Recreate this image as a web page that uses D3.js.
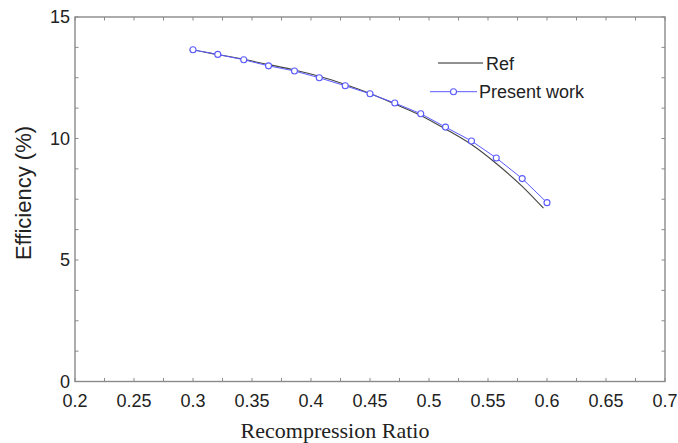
<!DOCTYPE html>
<html>
<head>
<meta charset="utf-8">
<script src="https://cdn.jsdelivr.net/npm/d3@7"></script>
<style>
  html, body { margin: 0; padding: 0; background: #fff; }
  svg { display: block; }
</style>
</head>
<body>
<svg id="chart" width="678" height="443"></svg>
<script>
// Reference curve (smooth line)
const refX = [0.297, 0.300, 0.320, 0.343, 0.364, 0.386, 0.407, 0.429, 0.450, 0.471, 0.493, 0.514, 0.536, 0.557, 0.579, 0.597];
const refY = [13.64, 13.63, 13.46, 13.26, 13.04, 12.82, 12.56, 12.22, 11.85, 11.42, 10.95, 10.39, 9.75, 8.97, 8.03, 7.13];

// Present work (line with open circle markers)
const workX = [0.300, 0.321, 0.343, 0.364, 0.386, 0.407, 0.429, 0.450, 0.471, 0.493, 0.514, 0.536, 0.557, 0.579, 0.600];
const workY = [13.65, 13.46, 13.24, 12.99, 12.78, 12.50, 12.17, 11.84, 11.46, 11.02, 10.47, 9.90, 9.20, 8.35, 7.36];

const xTickLabels = [0.2, 0.25, 0.3, 0.35, 0.4, 0.45, 0.5, 0.55, 0.6, 0.65, 0.7];
const yTickLabels = [0, 5, 10, 15];
const xMinorTicks = d3.range(0.2, 0.7001, 0.025);
const yMinorTicks = d3.range(0, 15.001, 1.25);

const seriesNames = ["Ref", "Present work"];

const svg = d3.select("#chart");
const margin = { left: 75, right: 13, top: 17, bottom: 61.5 };
const W = 678, H = 443;
const x = d3.scaleLinear().domain([0.2, 0.7]).range([margin.left, W - margin.right]);
const y = d3.scaleLinear().domain([0, 15]).range([H - margin.bottom, margin.top]);

const frameColor = "#8a8a8a";
const blue = "#5a5aff";
const tickFont = "Liberation Sans, Arial, sans-serif";

// Inward ticks on all four sides
const tickLen = 3.5;
const axes = svg.append("g").attr("stroke", frameColor).attr("stroke-width", 1);
xMinorTicks.forEach(t => {
  axes.append("line").attr("x1", x(t)).attr("x2", x(t))
    .attr("y1", y(0)).attr("y2", y(0) - tickLen);
  axes.append("line").attr("x1", x(t)).attr("x2", x(t))
    .attr("y1", y(15)).attr("y2", y(15) + tickLen);
});
yMinorTicks.forEach(t => {
  axes.append("line").attr("x1", x(0.2)).attr("x2", x(0.2) + tickLen)
    .attr("y1", y(t)).attr("y2", y(t));
  axes.append("line").attr("x1", x(0.7)).attr("x2", x(0.7) - tickLen)
    .attr("y1", y(t)).attr("y2", y(t));
});

// Frame
svg.append("rect")
  .attr("x", x(0.2)).attr("y", y(15))
  .attr("width", x(0.7) - x(0.2)).attr("height", y(0) - y(15))
  .attr("fill", "none").attr("stroke", frameColor).attr("stroke-width", 1.4);

// Tick labels
svg.append("g").selectAll("text").data(xTickLabels).join("text")
  .attr("x", d => x(d)).attr("y", 407)
  .attr("text-anchor", "middle")
  .attr("font-family", tickFont).attr("font-size", 18).attr("fill", "#222")
  .text(d => d3.format("")(d));

svg.append("g").selectAll("text").data(yTickLabels).join("text")
  .attr("x", 70).attr("y", d => y(d))
  .attr("dy", "0.35em")
  .attr("text-anchor", "end")
  .attr("font-family", tickFont).attr("font-size", 18).attr("fill", "#222")
  .text(d => d);

// Axis titles
svg.append("text")
  .attr("x", 335).attr("y", 438)
  .attr("text-anchor", "middle")
  .attr("font-family", "Liberation Serif, Times New Roman, serif")
  .attr("font-size", 22).attr("fill", "#222")
  .text("Recompression Ratio");

svg.append("text")
  .attr("transform", "translate(31,193) rotate(-90)")
  .attr("text-anchor", "middle")
  .attr("font-family", tickFont)
  .attr("font-size", 22).attr("fill", "#222")
  .text("Efficiency (%)");

// Lines
const refData = refX.map((v, i) => [v, refY[i]]);
const workData = workX.map((v, i) => [v, workY[i]]);

svg.append("path")
  .datum(refData)
  .attr("fill", "none").attr("stroke", "#444").attr("stroke-width", 1.1)
  .attr("d", d3.line().x(d => x(d[0])).y(d => y(d[1])).curve(d3.curveMonotoneX));

svg.append("path")
  .datum(workData)
  .attr("fill", "none").attr("stroke", blue).attr("stroke-width", 1)
  .attr("d", d3.line().x(d => x(d[0])).y(d => y(d[1])));

svg.append("g").selectAll("circle").data(workData).join("circle")
  .attr("cx", d => x(d[0])).attr("cy", d => y(d[1])).attr("r", 3)
  .attr("fill", "#fff").attr("stroke", blue).attr("stroke-width", 1.1);

// Legend
const legend = svg.append("g");
legend.append("line").attr("x1", 438).attr("x2", 483).attr("y1", 63).attr("y2", 63)
  .attr("stroke", "#222").attr("stroke-width", 1);
legend.append("text").attr("x", 486).attr("y", 69.5)
  .attr("font-family", tickFont).attr("font-size", 18).attr("fill", "#222")
  .text(seriesNames[0]);
legend.append("line").attr("x1", 430).attr("x2", 477).attr("y1", 91.7).attr("y2", 91.7)
  .attr("stroke", blue).attr("stroke-width", 1);
legend.append("circle").attr("cx", 453.5).attr("cy", 91.7).attr("r", 3)
  .attr("fill", "#fff").attr("stroke", blue).attr("stroke-width", 1.1);
legend.append("text").attr("x", 479).attr("y", 97.5)
  .attr("font-family", tickFont).attr("font-size", 18).attr("fill", "#222")
  .text(seriesNames[1]);
</script>
</body>
</html>
